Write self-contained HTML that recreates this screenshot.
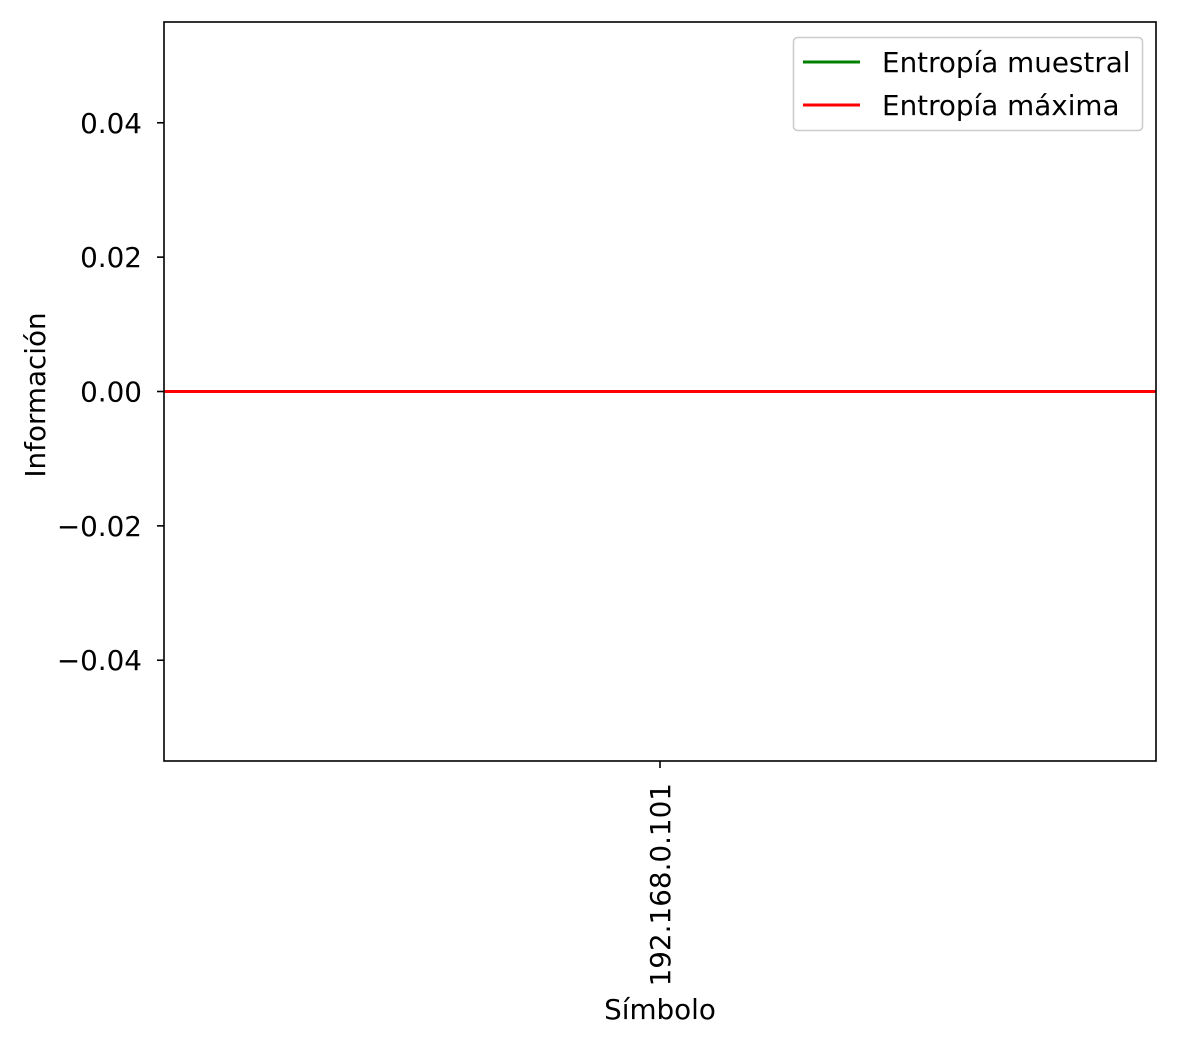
<!DOCTYPE html>
<html><head><meta charset="utf-8"><style>
html,body{margin:0;padding:0;background:#fff;}
svg text{font-family:"DejaVu Sans","Liberation Sans",sans-serif;font-size:27.8px;fill:#000;}
</style></head><body>
<svg width="1179" height="1044" xmlns="http://www.w3.org/2000/svg">
<g id="g"></g>
</svg>
<script>
const categories = ["192.168.0.101"];
const sampleEntropy = [0];
const maxEntropy = [0];
const yTicks = [0.04, 0.02, 0.00, -0.02, -0.04];
const yTickLabels = ["0.04", "0.02", "0.00", "\u22120.02", "\u22120.04"];
const L=164,R=1156,T=22,B=761,yMin=-0.055,yMax=0.055;
const NS="http://www.w3.org/2000/svg";
const g=document.getElementById('g');
function y(v){return B-(v-yMin)/(yMax-yMin)*(B-T);}
function x(i){return L+(i+0.5)/categories.length*(R-L);}
function mk(t,a,p){const e=document.createElementNS(NS,t);for(const k in a)e.setAttribute(k,a[k]);(p||g).appendChild(e);return e;}
yTicks.forEach((v,i)=>{
 const t=mk('line',{x1:L-7,x2:L,y1:y(v),y2:y(v),stroke:'#000','stroke-width':1.6});
 
 
 const l=mk('text',{x:L-22,y:y(v)+10,'text-anchor':'end'});l.textContent=yTickLabels[i];
 
 
});
categories.forEach((c,i)=>{
 const t=mk('line',{x1:x(i),x2:x(i),y1:B,y2:B+7,stroke:'#000','stroke-width':1.6});
 
 
 const l=mk('text',{x:0,y:0,'text-anchor':'end',transform:`translate(${x(i)+10},${B+22}) rotate(-90)`});l.textContent=c;
 
 
});
function series(vals,color,name){
 const pts=vals.length===1?[[L,y(vals[0])],[R,y(vals[0])]]:vals.map((v,i)=>[x(i),y(v)]);
 const p=mk('polyline',{points:pts.map(p=>p.join(',')).join(' '),fill:'none',stroke:color,'stroke-width':3});
 
 
}
series(sampleEntropy,'#008000','sample-entropy-line');
series(maxEntropy,'#ff0000','max-entropy-line');
const f=mk('rect',{x:L,y:T,width:R-L,height:B-T,fill:'none',stroke:'#000','stroke-width':1.6});


const xl=mk('text',{x:660,y:1019,'text-anchor':'middle'});xl.textContent='Símbolo';


const yl=mk('text',{x:0,y:0,'text-anchor':'middle',transform:'translate(45,395) rotate(-90)'});yl.textContent='Información';


const lg=mk('g',{});


mk('rect',{x:793.5,y:37.5,width:349,height:93,rx:4,fill:'#fff',stroke:'#ccc','stroke-width':1.6},lg);
[['Entropía muestral','#008000',62],['Entropía máxima','#ff0000',105]].forEach(([n,c,yy])=>{
 const e=mk('g',{},lg);
 
 
 mk('line',{x1:803,x2:860,y1:yy,y2:yy,stroke:c,'stroke-width':3},e);
 const t=mk('text',{x:882,y:yy+10},e);t.textContent=n;
});
</script>
</body></html>
